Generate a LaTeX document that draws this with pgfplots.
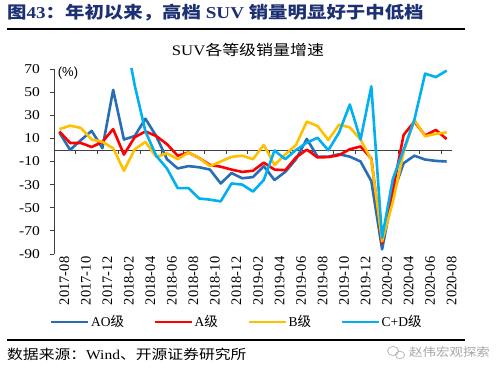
\documentclass[border=0pt]{standalone}
\usepackage{fontspec}
\usepackage{pgfplots}
\usepackage{pgfplotstable}
\pgfplotsset{compat=1.18}
\setmainfont{Liberation Serif}[FakeStretch=1.15]
\newfontfamily\serifplain{Liberation Serif}
\newfontfamily\cjk{Noto Sans CJK SC}[FakeStretch=1.17]
\newfontfamily\cjkplain{Noto Sans CJK SC}
\newfontfamily\sansf{Liberation Sans}
\definecolor{cAO}{RGB}{40,110,180}
\definecolor{cA}{RGB}{255,0,0}
\definecolor{cB}{RGB}{255,192,0}
\definecolor{cCD}{RGB}{0,176,240}
\definecolor{navy}{RGB}{28,48,115}
\newcommand\fs[1]{\fontsize{#1bp}{#1bp}\selectfont}

\pgfplotstableread{
i AO A B CD
0 15 16 18 nan
1 0 6 21 nan
2 8.5 6 19 nan
3 16.5 2.5 9 nan
4 1.5 7 7 nan
5 52 18 1.5 nan
6 9 -4 -18 105
7 12 11 0.5 56
8 27 16 7 16
9 12 12 -6 -5
10 -8 5 -3 -16
11 -16 -5 -8 -33
12 -14 -2.3 -2.3 -33
13 -15 -7 -7 -42
14 -17 -13 -14 -43
15 -29 -14.5 -10 -44.5
16 -20 -17 -6 -29
17 -24.5 -19 -5 -30
18 -23.5 -18 -8 -36
19 -14 -11 4.3 -26
20 -26 -17 -13 -0.5
21 -19 -17.5 -4 -8
22 -8 -6.5 4.3 0
23 9.5 0.3 24.5 6.3
24 -5.8 -6.5 20.7 10.5
25 -5.8 -6.2 8.6 -0.3
26 -3.7 -4.5 21.8 15
27 -5.8 0.6 19.5 39.3
28 -10 3 9 9
29 -27 -7.5 -8.5 55
30 -86 -81 -79 -76
31 -38 -35 -45 -25
32 -11.5 13 -2 0
33 -5 24.5 26 26
34 -8.3 12.5 11.8 66
35 -9.5 17.3 13.9 63
36 -10 9.4 15.2 68.6
}\data

\begin{document}
\begin{tikzpicture}
\useasboundingbox (0,0) rectangle (500bp,373bp);
% header
\node[anchor=west, text=navy, inner sep=0pt, font=\fs{16.6}] at (7bp,360bp)
  {{\cjk\bfseries 图}{\bfseries 43}{\cjk\bfseries ：年初以来，高档} {\bfseries SUV} {\cjk\bfseries 销量明显好于中低档}};
\draw[line width=1.5bp] (7bp,344bp) -- (465bp,344bp);
\node[inner sep=0pt, font=\fs{14.5}] at (248bp,323bp) {SUV{\cjk 各等级销量增速}};

\begin{axis}[
  at={(54bp,119bp)}, anchor=south west,
  scale only axis, width=398bp, height=185bp,
  xmin=-0.5, xmax=36.5, ymin=-90, ymax=70,
  axis y line*=left, axis x line*=bottom,
  x axis line style={draw=none},
  y axis line style={black!75, line width=0.8bp},
  xtick={0,2,...,36},
  xticklabels={2017-08,2017-10,2017-12,2018-02,2018-04,2018-06,2018-08,2018-10,2018-12,2019-02,2019-04,2019-06,2019-08,2019-10,2019-12,2020-02,2020-04,2020-06,2020-08},
  major x tick style={draw=none},
  xticklabel style={rotate=90, anchor=east, font=\serifplain\fs{14.5}, inner sep=0pt, yshift=-5bp, xshift=1.5bp},
  ytick={-90,-70,...,70},
  yticklabel style={font=\fs{13.5}, inner sep=0pt, xshift=-10bp},
  /pgf/number format/assume math mode=true,
  tick align=outside, major tick length=4bp,
  major y tick style={black!75, line width=0.8bp},
  every axis plot/.append style={line width=2.6bp, line join=round},
  legend columns=4,
  legend image code/.code={\draw[#1, line width=2.6bp] (0bp,0bp) -- (37bp,0bp);},
  legend style={draw=none, fill=none, at={(axis description cs:-0.01,-0.3676)}, anchor=west,
    inner sep=0pt, outer sep=0pt, font=\serifplain\fs{13.5},
    nodes={inner sep=1.5bp},
    /tikz/every even column/.append style={column sep=28bp}},
]
\draw[black!75, line width=0.8bp] (axis cs:-0.5,0) -- (axis cs:36.5,0);
\pgfplotsinvokeforeach{1.5,3.5,5.5,7.5,9.5,11.5,13.5,15.5,17.5,19.5,21.5,23.5,25.5,27.5,29.5,31.5,33.5,35.5}{
  \draw[black!75, line width=0.8bp] (axis cs:#1,0) -- ([yshift=-4bp]axis cs:#1,0);
}
\addplot[cAO, no markers] table[x=i, y=AO] {\data};
\addlegendentry{AO{\cjkplain 级}}
\addplot[cA, no markers] table[x=i, y=A] {\data};
\addlegendentry{A{\cjkplain 级}}
\addplot[cB, no markers] table[x=i, y=B] {\data};
\addlegendentry{B{\cjkplain 级}}
\addplot[cCD, no markers] table[x=i, y=CD] {\data};
\addlegendentry{C+D{\cjkplain 级}}
\end{axis}

\node[inner sep=0pt, font=\sansf\fs{13}] at (68bp,300bp) {(\%)};
% footer
\draw[line width=1.5bp] (7bp,33bp) -- (465bp,33bp);
\node[anchor=west, inner sep=0pt, font=\fs{13.5}] at (7bp,19bp) {{\cjk 数据来源：}Wind{\cjk 、开源证券研究所}};
\begin{scope}[gray!60, line width=0.7bp]
  \draw (393bp,22bp) ellipse (5.5bp and 4.5bp);
  \draw (400bp,18bp) ellipse (4.5bp and 3.8bp);
\end{scope}
\node[anchor=west, inner sep=0pt, text=gray!70, font=\cjk\fs{11.5}] at (409bp,21bp) {赵伟宏观探索};
\end{tikzpicture}
\end{document}
